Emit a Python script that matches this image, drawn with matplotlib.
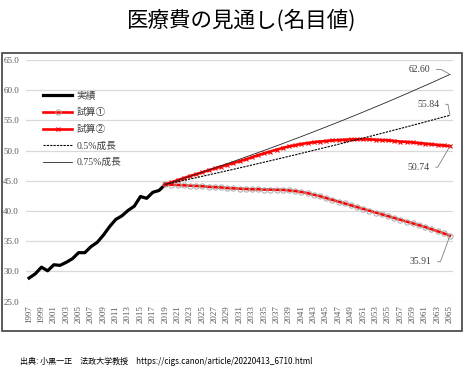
import numpy as np
import matplotlib
matplotlib.use("Agg")
from matplotlib import pyplot as plt
from matplotlib.patches import Rectangle

plt.rcParams["font.family"] = ["Liberation Serif", "Noto Sans CJK JP", "DejaVu Sans"]

# national medical expenditure (trillion yen)
years_actual = list(range(1997, 2020))
actual = [28.9, 29.6, 30.7, 30.1, 31.1, 31.0, 31.5, 32.1, 33.1, 33.1, 34.1, 34.8,
          36.0, 37.4, 38.6, 39.2, 40.1, 40.8, 42.4, 42.1, 43.1, 43.4, 44.4]

years_proj = list(range(2019, 2066))
case1 = [44.4, 44.35, 44.3, 44.25, 44.2, 44.15, 44.1, 44.0, 43.95, 43.9,
         43.8, 43.75, 43.7, 43.65, 43.6, 43.6, 43.55, 43.55, 43.5, 43.5,
         43.4, 43.3, 43.15, 42.95, 42.7, 42.45, 42.15, 41.85, 41.55, 41.25,
         40.95, 40.65, 40.35, 40.05, 39.75, 39.45, 39.15, 38.85, 38.55, 38.25,
         37.95, 37.65, 37.35, 37.0, 36.65, 36.3, 35.91]
case2 = [44.4, 44.75, 45.1, 45.45, 45.8, 46.1, 46.4, 46.75, 47.05, 47.35,
         47.65, 47.95, 48.25, 48.55, 48.9, 49.25, 49.55, 49.85, 50.15, 50.45,
         50.7, 50.9, 51.1, 51.25, 51.4, 51.5, 51.6, 51.7, 51.75, 51.8,
         51.85, 51.87, 51.87, 51.85, 51.8, 51.75, 51.7, 51.6, 51.5, 51.45,
         51.35, 51.25, 51.15, 51.05, 50.95, 50.85, 50.74]
growth_05 = [44.40, 44.62, 44.85, 45.07, 45.29, 45.52, 45.75, 45.98, 46.21, 46.44,
             46.67, 46.90, 47.14, 47.37, 47.61, 47.85, 48.09, 48.33, 48.57, 48.81,
             49.06, 49.30, 49.55, 49.80, 50.05, 50.30, 50.55, 50.80, 51.05, 51.31,
             51.57, 51.82, 52.08, 52.34, 52.60, 52.87, 53.13, 53.40, 53.66, 53.93,
             54.20, 54.47, 54.75, 55.02, 55.30, 55.57, 55.84]
growth_075 = [44.40, 44.73, 45.07, 45.41, 45.75, 46.09, 46.44, 46.78, 47.14, 47.49,
              47.84, 48.20, 48.57, 48.93, 49.30, 49.67, 50.04, 50.41, 50.79, 51.17,
              51.56, 51.94, 52.33, 52.73, 53.12, 53.52, 53.92, 54.33, 54.73, 55.14,
              55.56, 55.97, 56.39, 56.82, 57.24, 57.67, 58.10, 58.54, 58.98, 59.42,
              59.87, 60.32, 60.77, 61.22, 61.68, 62.15, 62.60]

labels = ["実績", "試算①", "試算②", "0.5%成長", "0.75%成長"]

fig = plt.figure(figsize=(4.66, 3.73), dpi=100)
ax = fig.add_axes([26 / 466, 1 - 301.6 / 373, 427 / 466, 241.6 / 373])

ax.plot(years_actual, actual, color="black", lw=2.3, label=labels[0], zorder=3)
ax.plot(years_proj, case1, color="red", lw=1.9, marker="o", ms=3.8, mfc="none",
        mec="#a8a8a8", mew=0.7, label=labels[1], zorder=3)
ax.plot(years_proj, case2, color="red", lw=1.9, marker="x", ms=3.5, mec="red",
        mew=0.8, label=labels[2], zorder=3)
ax.plot(years_proj, growth_05, color="black", lw=0.8, ls=(0, (2, 1)), label=labels[3], zorder=4)
ax.plot(years_proj, growth_075, color="#262626", lw=0.6, label=labels[4], zorder=4)

ax.set_xlim(1996.5, 2065.5)
ax.set_ylim(25, 65)
ax.set_yticks(np.arange(25, 65.1, 5))
ax.set_yticklabels([f"{v:.1f}" for v in np.arange(25, 65.1, 5)])
xt = list(range(1997, 2066, 2))
ax.set_xticks(xt)
ax.set_xticklabels([str(y) for y in xt], rotation=90)
ax.tick_params(axis="both", length=0, labelsize=6.5, colors="#595959")
ax.tick_params(axis="y", pad=5)
ax.tick_params(axis="x", pad=2.5)
ax.grid(axis="y", color="#d9d9d9", lw=0.9)
ax.set_axisbelow(True)
for s in ax.spines.values():
    s.set_visible(False)

# end-point labels
lab_style = dict(textcoords="offset pixels", fontsize=7, color="#404040",
                 ha="center", va="center")
ends = [
    (growth_075[-1], (-30, 5), 150),
    (growth_05[-1], (-21, 11), 100),
    (case2[-1], (-31, -21), 60),
    (case1[-1], (-29, -26), 70),
]
for val, off, angb in ends:
    ax.annotate(f"{val:.2f}", xy=(years_proj[-1], val), xytext=off,
                arrowprops=dict(arrowstyle="-", color="#7f7f7f", lw=0.6,
                                shrinkA=2, shrinkB=0,
                                connectionstyle=f"angle,angleA=0,angleB={angb},rad=0"),
                **lab_style)

leg = ax.legend(loc="upper left", bbox_to_anchor=(0.031, 0.885), frameon=False,
                fontsize=7, handlelength=3.0, handletextpad=0.4, labelspacing=0.76,
                borderaxespad=0)
for t in leg.get_texts():
    t.set_color("#404040")

fig.text(242 / 466, 1 - 21 / 373, "医療費の見通し(名目値)", ha="center", va="center",
         fontsize=15.5, family=["Noto Sans CJK JP", "DejaVu Sans"])
fig.text(20 / 466, 1 - 362 / 373,
         "出典: 小黒一正　法政大学教授　https://cigs.canon/article/20220413_6710.html",
         ha="left", va="center", fontsize=5.8, family=["Noto Sans CJK JP", "DejaVu Sans"])

fig.add_artist(Rectangle((2 / 466, 1 - 331 / 373), 460 / 466, 278 / 373,
                         transform=fig.transFigure, fill=False,
                         edgecolor="#404040", lw=1.2))

fig.savefig("out.png", dpi=100)
